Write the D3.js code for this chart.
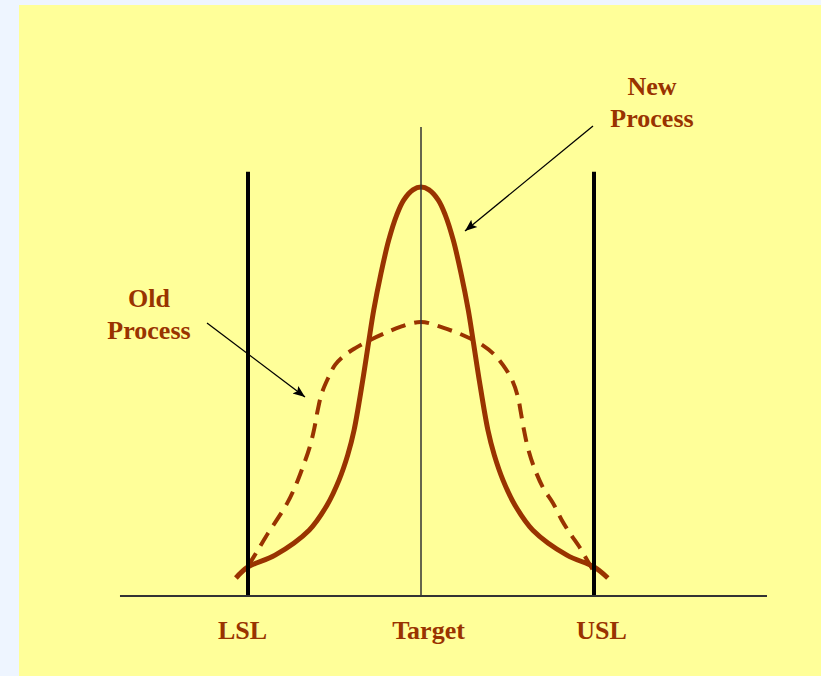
<!DOCTYPE html>
<html>
<head>
<meta charset="utf-8">
<script src="https://cdn.jsdelivr.net/npm/d3@7"></script>
<style>
  html, body { margin: 0; padding: 0; background: #eef5ff; }
  svg { display: block; }
</style>
</head>
<body>
<svg id="chart" width="821" height="676"></svg>
<script>
// Specification marks on the process axis (in sigma units around the target)
const specNames = ["LSL", "Target", "USL"];
const specValues = [-3, 0, 3];

// New (centred, narrow) process: x in sigma units, relative frequency
const newX = [-3.21, -3.00, -2.53, -1.94, -1.63, -1.42, -1.27, -1.16, -1.01, -0.91, -0.82, -0.70, -0.56, -0.42, -0.30, -0.14, 0.00,
              0.14, 0.30, 0.42, 0.56, 0.70, 0.82, 0.91, 1.01, 1.16, 1.27, 1.42, 1.63, 1.94, 2.53, 3.00, 3.24];
const newY = [0.044, 0.071, 0.100, 0.161, 0.222, 0.284, 0.345, 0.406, 0.528, 0.619, 0.699, 0.785, 0.870, 0.932, 0.968, 0.993, 1.000,
              0.993, 0.968, 0.932, 0.870, 0.785, 0.699, 0.619, 0.528, 0.406, 0.345, 0.284, 0.222, 0.161, 0.100, 0.071, 0.044];

// Old (wide, flat-topped) process
const oldX = [-3.00, -2.83, -2.65, -2.50, -2.32, -2.18, -2.05, -1.93, -1.85, -1.79, -1.72, -1.61, -1.49, -1.32, -1.14,
              -0.88, -0.62, -0.36, 0.00, 0.38, 0.74, 1.06, 1.28, 1.42, 1.58, 1.68, 1.73, 1.78, 1.85, 1.96, 2.12,
              2.29, 2.44, 2.58, 2.76, 2.90, 2.98];
const oldY = [0.073, 0.112, 0.154, 0.186, 0.227, 0.268, 0.315, 0.364, 0.410, 0.455, 0.496, 0.533, 0.565, 0.589, 0.606,
              0.626, 0.643, 0.658, 0.670, 0.656, 0.637, 0.614, 0.589, 0.565, 0.528, 0.487, 0.450, 0.410, 0.364, 0.315, 0.264,
              0.227, 0.186, 0.154, 0.117, 0.083, 0.064];

// Extents of the reference lines
const baselineExtent = [-5.22, 6.0];
const specLineTop = 1.037;
const targetLineTop = 1.147;

const brown = "#993300";
const fontFamily = "'Liberation Serif', 'Times New Roman', serif";
const fontSize = 26;

const svg = d3.select("#chart");

// yellow panel
svg.append("rect")
  .attr("x", 19).attr("y", 5)
  .attr("width", 821 - 19).attr("height", 676 - 5)
  .attr("fill", "#ffff99");

const x = d3.scaleLinear().domain([-3, 3]).range([248, 594]);
const y = d3.scaleLinear().domain([0, 1]).range([596, 187]);

const line = d3.line()
  .x(d => x(d[0]))
  .y(d => y(d[1]))
  .curve(d3.curveCatmullRom.alpha(0.5));

const newPts = newX.map((v, i) => [v, newY[i]]);
const oldPts = oldX.map((v, i) => [v, oldY[i]]);

// distributions
svg.append("path")
  .attr("d", line(oldPts))
  .attr("fill", "none")
  .attr("stroke", brown)
  .attr("stroke-width", 4)
  .attr("stroke-dasharray", "15,9");

svg.append("path")
  .attr("d", line(newPts))
  .attr("fill", "none")
  .attr("stroke", brown)
  .attr("stroke-width", 5);

// spec limit lines
svg.selectAll("line.spec")
  .data([specValues[0], specValues[2]])
  .join("line")
  .attr("class", "spec")
  .attr("x1", d => x(d)).attr("x2", d => x(d))
  .attr("y1", y(specLineTop)).attr("y2", y(0))
  .attr("stroke", "#000")
  .attr("stroke-width", 4);

// target line
svg.append("line")
  .attr("x1", x(specValues[1])).attr("x2", x(specValues[1]))
  .attr("y1", y(targetLineTop)).attr("y2", y(0))
  .attr("stroke", "#333")
  .attr("stroke-width", 1.5);

// baseline
svg.append("line")
  .attr("x1", x(baselineExtent[0])).attr("x2", x(baselineExtent[1]))
  .attr("y1", y(0)).attr("y2", y(0))
  .attr("stroke", "#333")
  .attr("stroke-width", 2);

// axis labels
const axis = d3.axisBottom(x)
  .tickValues(specValues)
  .tickFormat((d, i) => specNames[i])
  .tickSize(0)
  .tickPadding(25);

const gAxis = svg.append("g")
  .attr("transform", `translate(0,${y(0)})`)
  .call(axis);
gAxis.select(".domain").remove();
gAxis.selectAll("text")
  .attr("fill", brown)
  .attr("font-family", fontFamily)
  .attr("font-weight", "bold")
  .attr("font-size", fontSize);
// nudge the labels onto their reading positions
gAxis.selectAll(".tick text")
  .attr("dx", (d, i) => [-6, 7, 7][i]);

// arrow marker
svg.append("defs").append("marker")
  .attr("id", "arrow")
  .attr("viewBox", "0 0 10 10")
  .attr("refX", 10).attr("refY", 5)
  .attr("markerWidth", 12).attr("markerHeight", 12)
  .attr("markerUnits", "userSpaceOnUse")
  .attr("orient", "auto")
  .append("path")
  .attr("d", "M0,1 L10,5 L0,9 L2,5 Z")
  .attr("fill", "#000");

// annotations
const notes = [
  { lines: ["Old", "Process"], cx: 149, y0: 307, from: [207, 323], to: [305, 397] },
  { lines: ["New", "Process"], cx: 652, y0: 95, from: [593, 126], to: [465, 231] }
];

notes.forEach(n => {
  const t = svg.append("text")
    .attr("text-anchor", "middle")
    .attr("fill", brown)
    .attr("font-family", fontFamily)
    .attr("font-weight", "bold")
    .attr("font-size", fontSize);
  n.lines.forEach((s, i) => {
    t.append("tspan").attr("x", n.cx).attr("y", n.y0 + i * 32).text(s);
  });
  svg.append("line")
    .attr("x1", n.from[0]).attr("y1", n.from[1])
    .attr("x2", n.to[0]).attr("y2", n.to[1])
    .attr("stroke", "#000")
    .attr("stroke-width", 1.3)
    .attr("marker-end", "url(#arrow)");
});
</script>
</body>
</html>
